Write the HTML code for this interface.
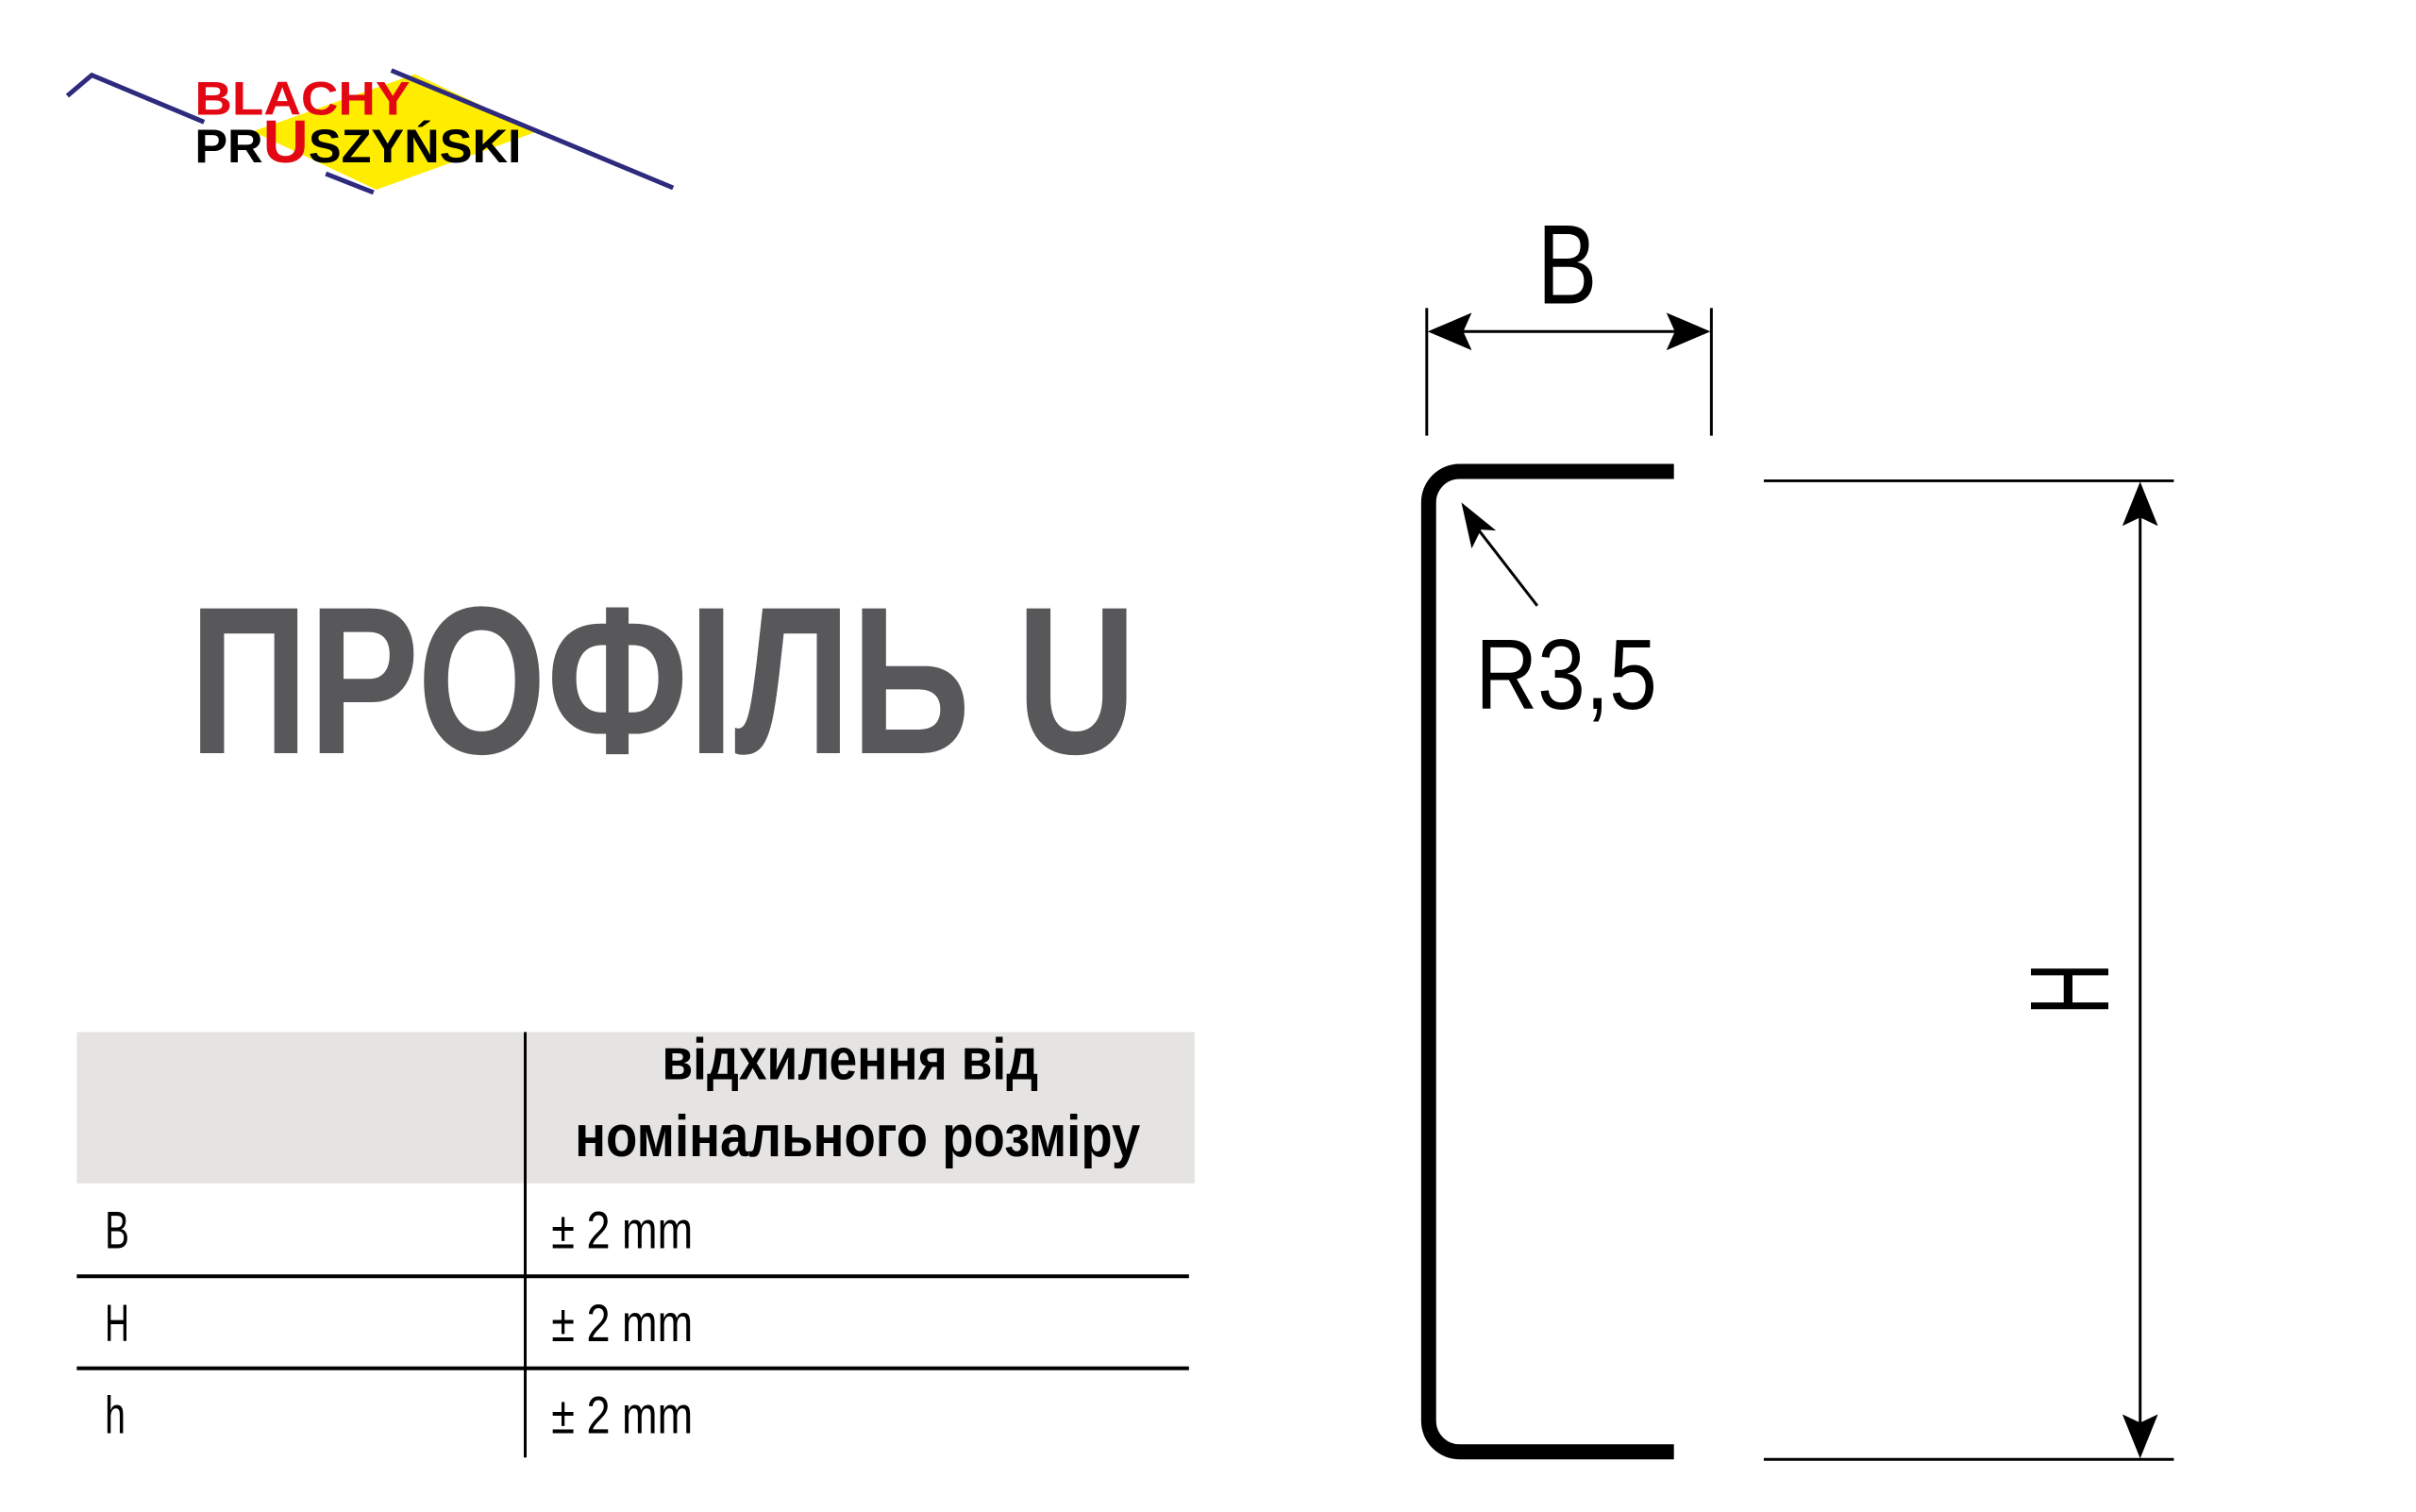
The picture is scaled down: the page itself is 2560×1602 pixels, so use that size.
<!DOCTYPE html>
<html><head><meta charset="utf-8"><style>
html,body{margin:0;padding:0;background:#fff;}
svg{display:block;}
text{font-family:"Liberation Sans Narrow","Liberation Sans",sans-serif;}
</style></head><body>
<svg width="2560" height="1602" viewBox="0 0 2560 1602" xmlns="http://www.w3.org/2000/svg">
<g transform="scale(0.992,0.995)">
<!-- logo -->
<polygon points="443,79 574,140 402,202 270,140" fill="#ffed00"/>
<polyline points="72,102 98,80 218,130" fill="none" stroke="#2e2a7e" stroke-width="5"/>
<line x1="418" y1="75" x2="719" y2="200" stroke="#2e2a7e" stroke-width="5"/>
<line x1="348" y1="185" x2="399" y2="205" stroke="#2e2a7e" stroke-width="5"/>
<text x="208" y="122" font-size="50" font-weight="bold" fill="#e30613" textLength="230" lengthAdjust="spacingAndGlyphs" style="font-family:'Liberation Sans',sans-serif">BLACHY</text>
<text x="208" y="173" font-size="50" font-weight="bold" fill="#000" textLength="349" lengthAdjust="spacingAndGlyphs" style="font-family:'Liberation Sans',sans-serif">PR<tspan fill="#e30613" font-size="64">U</tspan>SZYŃSKI</text>
<!-- title -->
<text x="202" y="802" font-size="224" font-weight="bold" fill="#58585a" textLength="1012" lengthAdjust="spacingAndGlyphs">ПРОФІЛЬ U</text>
<!-- table -->
<rect x="82" y="1099" width="1194" height="161" fill="#e5e4e2"/>
<line x1="561" y1="1099" x2="561" y2="1552" stroke="#000" stroke-width="3"/>
<line x1="82" y1="1359" x2="1270" y2="1359" stroke="#000" stroke-width="4"/>
<line x1="82" y1="1457" x2="1270" y2="1457" stroke="#000" stroke-width="4"/>
<text x="908" y="1149" font-size="62" font-weight="bold" text-anchor="middle" textLength="402" lengthAdjust="spacingAndGlyphs">відхилення від</text>
<text x="614" y="1231" font-size="62" font-weight="bold" textLength="604" lengthAdjust="spacingAndGlyphs">номінального розміру</text>
<g font-size="56">
<text x="112" y="1329" textLength="26" lengthAdjust="spacingAndGlyphs">B</text><text x="589" y="1329" textLength="151" lengthAdjust="spacingAndGlyphs">± 2 mm</text>
<text x="112" y="1428" textLength="26" lengthAdjust="spacingAndGlyphs">H</text><text x="589" y="1428" textLength="151" lengthAdjust="spacingAndGlyphs">± 2 mm</text>
<text x="112" y="1526" textLength="22" lengthAdjust="spacingAndGlyphs">h</text><text x="589" y="1526" textLength="151" lengthAdjust="spacingAndGlyphs">± 2 mm</text>
</g>
<g transform="translate(8,0)">
<!-- U profile -->
<path d="M1780,502 H1551 A33,33 0 0 0 1518,535 V1513 A33,33 0 0 0 1551,1546 H1780" fill="none" stroke="#000" stroke-width="16"/>
<!-- B dimension -->
<line x1="1516" y1="328" x2="1516" y2="464" stroke="#000" stroke-width="3"/>
<line x1="1820" y1="328" x2="1820" y2="464" stroke="#000" stroke-width="3"/>
<line x1="1540" y1="353" x2="1795" y2="353" stroke="#000" stroke-width="3"/>
<polygon points="1517,353 1564,333 1555,353 1564,373" fill="#000"/>
<polygon points="1819,353 1772,333 1781,353 1772,373" fill="#000"/>
<text x="1634" y="323" font-size="120" textLength="64" lengthAdjust="spacingAndGlyphs">B</text>
<!-- R leader -->
<line x1="1634" y1="645" x2="1568" y2="560" stroke="#000" stroke-width="3"/>
<polygon points="1553,535 1590,565 1574,564 1564,584" fill="#000"/>
<text x="1568" y="755" font-size="106" textLength="194" lengthAdjust="spacingAndGlyphs">R3,5</text>
<!-- H dimension -->
<line x1="1876" y1="512" x2="2314" y2="512" stroke="#000" stroke-width="3"/>
<line x1="1876" y1="1554" x2="2314" y2="1554" stroke="#000" stroke-width="3"/>
<line x1="2278" y1="530" x2="2278" y2="1535" stroke="#000" stroke-width="3"/>
<polygon points="2278,513 2259,560 2278,551 2297,560" fill="#000"/>
<polygon points="2278,1553 2259,1506 2278,1515 2297,1506" fill="#000"/>
<text x="0" y="0" font-size="120" text-anchor="middle" transform="translate(2244,1053) rotate(-90)" textLength="56" lengthAdjust="spacingAndGlyphs">H</text>
</g>
</g>
</svg>
</body></html>
